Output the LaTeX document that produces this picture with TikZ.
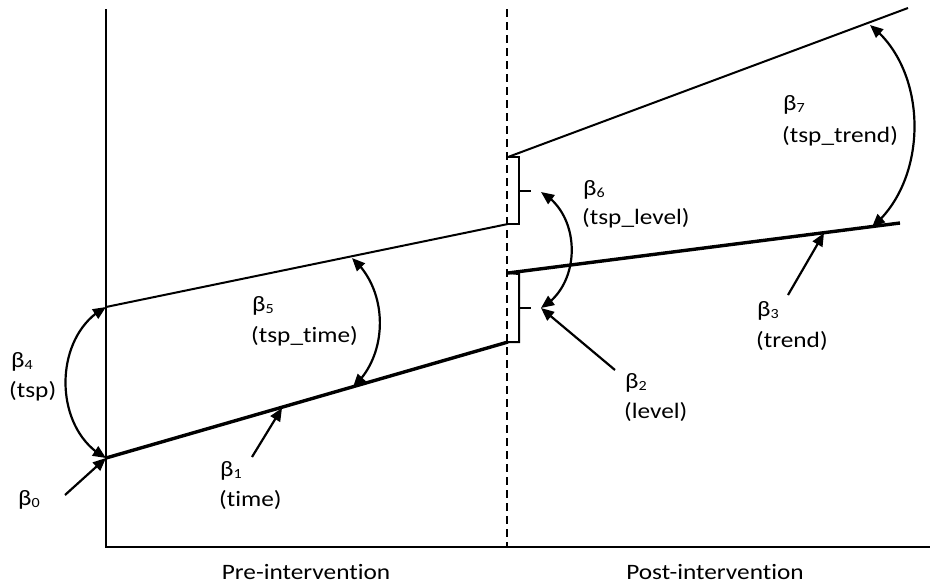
\documentclass[tikz,border=0pt]{standalone}
\usepackage{fontspec}
\setmainfont{Carlito}[FakeStretch=1.15,Ligatures=NoCommon]
\usetikzlibrary{arrows.meta,bending}
\newcommand{\bsubx}[1]{\raisebox{-2.5pt}{\fontsize{14}{14}\selectfont #1}}
\begin{document}
\begin{tikzpicture}[x=1pt,y=-1pt,
  thinline/.style={line width=2pt},
  thickline/.style={line width=3.4pt},
  axisline/.style={line width=2.2pt},
  bracket/.style={line width=2pt},
  tip/.style={-{Triangle[length=13pt,width=11pt]}},
  dtip/.style={{Triangle[length=13pt,width=11pt]}-{Triangle[length=13pt,width=11pt]}},
  arr/.style={line width=2.2pt},
  lbl/.style={anchor=base west,inner sep=0pt,font=\fontsize{22}{26}\selectfont}]
\useasboundingbox (0,0) rectangle (930,587);
% coordinates
\coordinate (ytop) at (106,9);
\coordinate (orig) at (106,547);
\coordinate (xend) at (930,547);
\coordinate (dtop) at (507,9);
\coordinate (dbot) at (507,547);
\coordinate (preLa) at (106,458);
\coordinate (preLb) at (508,342);
\coordinate (preUa) at (106,307);
\coordinate (preUb) at (508,224);
\coordinate (postUa) at (508,157);
\coordinate (postUb) at (908,8);
\coordinate (postLa) at (508,273);
\coordinate (postLb) at (900,223);
% axes
\draw[axisline] (ytop) -- (orig) -- (xend);
\draw[line width=1.8pt,dash pattern=on 8pt off 5pt] (dtop) -- (dbot);
% lines
\draw[thickline] (preLa) -- (preLb);
\draw[thinline] (preUa) -- (preUb);
\draw[thinline] (postUa) -- (postUb);
\draw[thickline] (postLa) -- (postLb);
% brackets
\coordinate (ub1) at (519,157);
\coordinate (ub2) at (519,224);
\coordinate (ubt) at (519,191);
\coordinate (ubte) at (531,191);
\draw[bracket] (postUa) -- (ub1) -- (ub2) -- (preUb);
\draw[bracket] (ubt) -- (ubte);
\coordinate (lb1) at (519,274);
\coordinate (lb2) at (519,342);
\coordinate (lbt) at (519,308);
\coordinate (lbte) at (531,308);
\draw[bracket] (postLa) -- (lb1) -- (lb2) -- (preLb);
\draw[bracket] (lbt) -- (lbte);
% arrow end points
\coordinate (a0s) at (65,495);
\coordinate (a1s) at (252,457);
\coordinate (a1e) at (282,408);
\coordinate (a2s) at (615,370);
\coordinate (a2e) at (541,308);
\coordinate (a3s) at (788,295);
\coordinate (a3e) at (824,233);
\coordinate (c5a) at (352,258);
\coordinate (c5b) at (353,387);
\coordinate (c6a) at (541,192);
\coordinate (c6b) at (541,308);
\coordinate (c7a) at (870,25);
\coordinate (c7b) at (872,227);
% straight arrows
\draw[arr,tip] (a0s) -- (preLa);
\draw[arr,tip] (a1s) -- (a1e);
\draw[arr,tip] (a2s) -- (a2e);
\draw[arr,tip] (a3s) -- (a3e);
% curved double arrows
\draw[arr,dtip] (preUa) .. controls (52,335) and (52,430) .. (preLa);
\draw[arr,dtip] (c5a) .. controls (389,290) and (389,355) .. (c5b);
\draw[arr,dtip] (c6a) .. controls (582,215) and (582,285) .. (c6b);
\draw[arr,dtip] (c7a) .. controls (929,70) and (929,180) .. (c7b);
% labels
\node[lbl] (b4) at (11,367) {β\bsubx{4}};
\node[lbl] (b4t) at (9,397) {(tsp)};
\node[lbl] (b0) at (18,505) {β\bsubx{0}};
\node[lbl] (b1) at (220,476) {β\bsubx{1}};
\node[lbl] (b1t) at (219,506) {(time)};
\node[lbl] (b5) at (252,311) {β\bsubx{5}};
\node[lbl] (b5t) at (251,342) {(tsp\_time)};
\node[lbl] (b6) at (583,195) {β\bsubx{6}};
\node[lbl] (b6t) at (582,224) {(tsp\_level)};
\node[lbl] (b2) at (625,388) {β\bsubx{2}};
\node[lbl] (b2t) at (624,418) {(level)};
\node[lbl] (b3) at (757,316) {β\bsubx{3}};
\node[lbl] (b3t) at (756,347) {(trend)};
\node[lbl] (b7) at (783,110) {β\bsubx{7}};
\node[lbl] (b7t) at (782,142) {(tsp\_trend)};
\node[lbl,anchor=base] (pre) at (306,579) {Pre-intervention};
\node[lbl,anchor=base] (post) at (715,579) {Post-intervention};
\end{tikzpicture}
\end{document}
